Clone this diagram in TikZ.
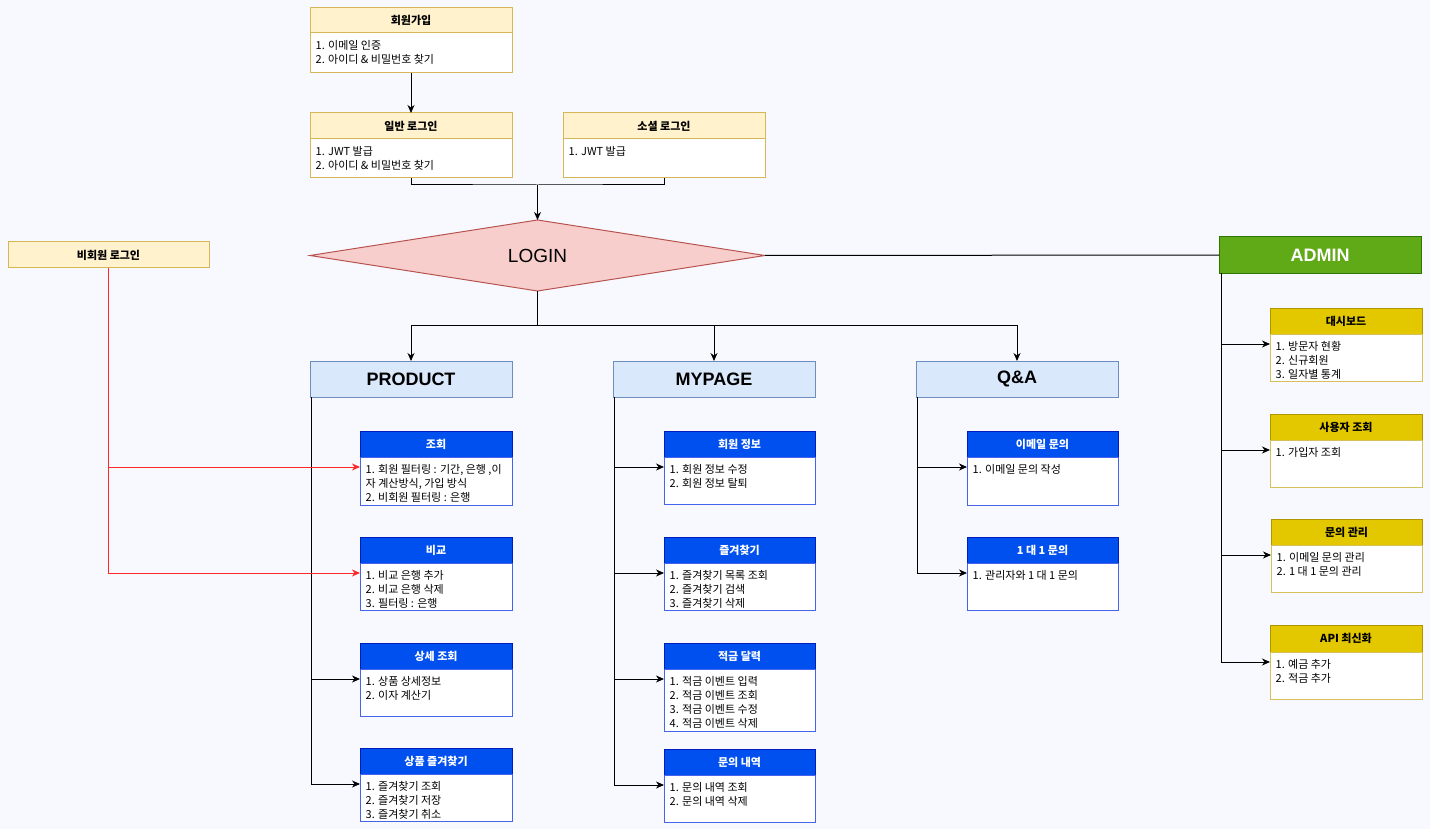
\documentclass[tikz,border=0pt]{standalone}
\usepackage{fontspec}
\setmainfont{Noto Sans CJK KR}
\newfontfamily\latinf{Liberation Sans}
\usetikzlibrary{shapes.geometric,arrows.meta,calc}
\definecolor{bgc}{RGB}{248,249,254}
\definecolor{yfill}{RGB}{255,242,204}
\definecolor{ydraw}{RGB}{214,182,86}
\definecolor{bfill}{RGB}{0,80,239}
\definecolor{bdraw}{RGB}{0,29,188}
\definecolor{bbody}{RGB}{70,100,235}
\definecolor{afill}{RGB}{227,200,0}
\definecolor{adraw}{RGB}{176,149,0}
\definecolor{abody}{RGB}{214,192,90}
\definecolor{secfill}{RGB}{218,232,252}
\definecolor{secdraw}{RGB}{108,142,191}
\definecolor{lfill}{RGB}{248,206,204}
\definecolor{ldraw}{RGB}{184,84,80}
\definecolor{gfill}{RGB}{96,169,23}
\definecolor{gdraw}{RGB}{45,118,0}
\definecolor{nmred}{RGB}{255,40,40}
\newcommand\mkbox[9]{%
  \node[#7, minimum width=#4pt, minimum height=#5pt, anchor=north west] (#1h) at (#2,#3) {#8};
  \node[#7body, minimum width=#4pt, minimum height=#6pt, anchor=north west] (#1b) at (#1h.south west) {};
  \node[bodytext] (#1t) at ([xshift=5.5pt,yshift=-7.5pt]#1b.north west) {#9};
  \coordinate (#1in) at ([yshift=-10pt]#1b.north west);
}
\begin{document}
\begin{tikzpicture}[x=1pt,y=-1pt,
  base/.style={rectangle, inner sep=0pt, outer sep=0pt, line width=1pt},
  yhead/.style={base, fill=yfill, draw=ydraw, font=\fontsize{11}{13}\selectfont\bfseries},
  yheadbody/.style={base, fill=white, draw=ydraw},
  bhead/.style={base, fill=bfill, draw=bdraw, text=white, font=\fontsize{11}{13}\selectfont\bfseries},
  bheadbody/.style={base, fill=white, draw=bbody},
  ahead/.style={base, fill=afill, draw=adraw, font=\fontsize{11}{13}\selectfont\bfseries},
  aheadbody/.style={base, fill=white, draw=abody},
  sec/.style={base, fill=secfill, draw=secdraw, font=\latinf\fontsize{18}{20}\selectfont\bfseries, minimum width=202pt, minimum height=36pt, anchor=north west},
  bodytext/.style={inner sep=0pt, align=left, font=\fontsize{11}{14}\selectfont, anchor=north west},
  arr/.style={-{Stealth[length=8pt,width=7pt,inset=2.5pt]}, line width=1pt, black},
  ln/.style={line width=1pt, black},
  redarr/.style={-{Stealth[length=8pt,width=7pt,inset=2.5pt]}, line width=1pt, nmred}
]
\fill[bgc] (0,0) rectangle (1430,829);
\useasboundingbox (0,0) rectangle (1430,829);

% top login boxes
\mkbox{sig}{310}{8}{202}{25}{40}{yhead}{회원가입}{1. 이메일 인증\\2. 아이디 \& 비밀번호 찾기}
\mkbox{il}{310}{113}{202}{26}{39}{yhead}{일반 로그인}{1. JWT 발급\\2. 아이디 \& 비밀번호 찾기}
\mkbox{so}{563}{113}{202}{26}{39}{yhead}{소셜 로그인}{1. JWT 발급}

\node[base, fill=yfill, draw=ydraw, font=\fontsize{11}{13}\selectfont\bfseries, minimum width=201pt, minimum height=26pt, anchor=north west] (nonmem) at (8,242) {비회원 로그인};

\node[diamond, shape aspect=6.4, minimum width=455pt, minimum height=71pt, inner sep=0pt, outer sep=0pt, line width=1pt, fill=lfill, draw=ldraw, font=\latinf\fontsize{19}{21}\selectfont] (login) at (537.5,255.5) {LOGIN};

\node[base, fill=gfill, draw=gdraw, text=white, font=\latinf\fontsize{18}{20}\selectfont\bfseries, minimum width=202pt, minimum height=36pt, anchor=north west] (admin) at (1219,237) {ADMIN};

\node[sec] (product) at (310,361) {PRODUCT};
\node[sec] (mypage) at (613,361) {MYPAGE};
\node[sec] (qa) at (916,361) {Q\&A};

% product children
\mkbox{ph}{360}{431}{152}{26}{48}{bhead}{조회}{1. 회원 필터링 : 기간, 은행 ,이\\자 계산방식, 가입 방식\\2. 비회원 필터링 : 은행}
\mkbox{bi}{360}{537}{152}{26}{47}{bhead}{비교}{1. 비교 은행 추가\\2. 비교 은행 삭제\\3. 필터링 : 은행}
\mkbox{sd}{360}{643}{152}{26}{47}{bhead}{상세 조회}{1. 상품 상세정보\\2. 이자 계산기}
\mkbox{pf}{360}{748}{152}{26}{47}{bhead}{상품 즐겨찾기}{1. 즐겨찾기 조회\\2. 즐겨찾기 저장\\3. 즐겨찾기 취소}

% mypage children
\mkbox{mi}{664}{431}{151}{26}{47}{bhead}{회원 정보}{1. 회원 정보 수정\\2. 회원 정보 탈퇴}
\mkbox{mf}{664}{537}{151}{26}{47}{bhead}{즐겨찾기}{1. 즐겨찾기 목록 조회\\2. 즐겨찾기 검색\\3. 즐겨찾기 삭제}
\mkbox{mc}{664}{643}{151}{26}{62}{bhead}{적금 달력}{1. 적금 이벤트 입력\\2. 적금 이벤트 조회\\3. 적금 이벤트 수정\\4. 적금 이벤트 삭제}
\mkbox{mq}{664}{749}{151}{26}{47}{bhead}{문의 내역}{1. 문의 내역 조회\\2. 문의 내역 삭제}

% Q&A children
\mkbox{qe}{967}{431}{151}{26}{48}{bhead}{이메일 문의}{1. 이메일 문의 작성}
\mkbox{qo}{967}{537}{151}{26}{47}{bhead}{1 대 1 문의}{1. 관리자와 1 대 1 문의}

% admin children
\mkbox{ad}{1270}{308}{152}{26}{47}{ahead}{대시보드}{1. 방문자 현황\\2. 신규회원\\3. 일자별 통계}
\mkbox{au}{1270}{414}{152}{26}{47}{ahead}{사용자 조회}{1. 가입자 조회}
\mkbox{ai}{1271}{519}{151}{26}{47}{ahead}{문의 관리}{1. 이메일 문의 관리\\2. 1 대 1 문의 관리}
\mkbox{aa}{1270}{625}{152}{27}{47}{ahead}{API 최신화}{1. 예금 추가\\2. 적금 추가}

% top connectors
\draw[arr] (sigb.south) -- (ilh.north);
\coordinate (topjoin) at (537.5,185);
\draw[ln] (ilb.south) |- (topjoin) -| (sob.south);
\draw[arr] (topjoin) -- (login.north);
\coordinate (split) at (537.5,325);
\draw[ln] (login.south) -- (split);
\draw[arr] (split) -| (product.north);
\draw[arr] (split) -| (mypage.north);
\draw[arr] (split) -| (qa.north);
\draw[ln] (login.east) -- (admin.west);

% product column
\coordinate (pv) at ([xshift=1pt]product.south west);
\draw[arr] (pv) |- (pfin);
\draw[arr] (pv |- sdin) -- (sdin);

% non-member (red)
\draw[redarr] (nonmem.south) |- (biin);
\draw[redarr] (nonmem.south |- phin) -- (phin);

% mypage column
\coordinate (mv) at ([xshift=1pt]mypage.south west);
\draw[arr] (mv) |- (mqin);
\draw[arr] (mv |- miin) -- (miin);
\draw[arr] (mv |- mfin) -- (mfin);
\draw[arr] (mv |- mcin) -- (mcin);

% Q&A column
\coordinate (qv) at ([xshift=1pt]qa.south west);
\draw[arr] (qv) |- (qoin);
\draw[arr] (qv |- qein) -- (qein);

% admin column
\coordinate (av) at ([xshift=2pt]admin.south west);
\draw[arr] (av) |- (aain);
\draw[arr] (av |- adin) -- (adin);
\draw[arr] (av |- auin) -- (auin);
\draw[arr] (av |- aiin) -- (aiin);
\end{tikzpicture}
\end{document}
